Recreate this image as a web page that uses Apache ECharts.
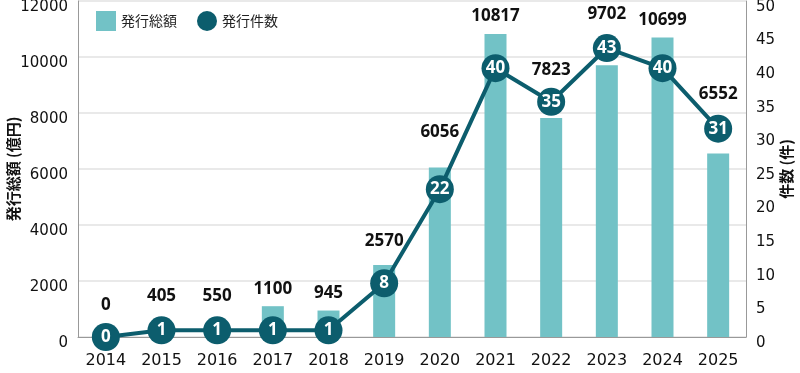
<!DOCTYPE html>
<html><head><meta charset="utf-8">
<script src="https://cdn.jsdelivr.net/npm/echarts@6/dist/echarts.min.js"></script>
<style>html,body{margin:0;padding:0;background:#fff}#c{width:800px;height:373px}</style>
</head><body><div id="c"></div>
<script>
const years = ['2014','2015','2016','2017','2018','2019','2020','2021','2022','2023','2024','2025'];
const amounts = [0,405,550,1100,945,2570,6056,10817,7823,9702,10699,6552];
const counts = [0,1,1,1,1,8,22,40,35,43,40,31];
const seriesNames = ['発行総額','発行件数'];
const leftAxisName = '発行総額 (億円)';
const rightAxisName = '件数 (件)';

// style: extra lift (px) of individual amount labels to keep clear of the line
const labelLift = [0,3,3,0,0,6,18,0,0,2,0,3];

const BAR = '#72c2c6', LINE = '#0c5d6d';
const NUM = '"DejaVu Sans", sans-serif';
const JP = '"Noto Sans CJK JP", sans-serif';
const R = 14;

const chart = echarts.init(document.getElementById('c'), null, {renderer:'canvas'});
function build(offsets){
  return {
    animation:false,
    grid:{left:78,right:54,top:1,bottom:36,containLabel:false,outerBoundsMode:'none'},
    legend:{left:91,top:6,itemWidth:20,itemHeight:20,itemGap:20,
      textStyle:{fontFamily:JP,fontSize:14,color:'#222'},
      data:[{name:seriesNames[0],icon:'rect'},{name:seriesNames[1],icon:'circle'}]},
    xAxis:{type:'category',data:years,
      axisLine:{lineStyle:{color:'#999',width:1}},
      axisTick:{inside:true,length:6,lineStyle:{color:'#999'}},
      axisLabel:{fontFamily:NUM,fontSize:16,color:'#111',margin:16}},
    yAxis:[
      {type:'value',min:0,max:12000,interval:2000,
       name:leftAxisName,nameLocation:'middle',nameGap:57,nameMoveOverlap:false,
       nameTextStyle:{fontFamily:JP,fontSize:15,fontWeight:'bold',color:'#111'},
       axisLine:{show:true,lineStyle:{color:'#999'}},axisTick:{show:false},
       splitLine:{lineStyle:{color:'#e2e2e2',width:1.5}},
       axisLabel:{fontFamily:NUM,fontSize:15,color:'#111',margin:10,
         verticalAlign:'top',lineHeight:12,formatter:v=>String(v)}},
      {type:'value',min:0,max:50,interval:5,position:'right',
       name:rightAxisName,nameLocation:'middle',nameGap:33,nameMoveOverlap:false,
       nameTextStyle:{fontFamily:JP,fontSize:15,fontWeight:'bold',color:'#111'},
       axisLine:{show:true,lineStyle:{color:'#999'}},axisTick:{show:false},
       splitLine:{show:false},
       axisLabel:{fontFamily:NUM,fontSize:15,color:'#111',margin:10,
         verticalAlign:'top',lineHeight:12,formatter:v=>String(v)}}
    ],
    series:[
      {name:seriesNames[0],type:'bar',yAxisIndex:0,barWidth:22,
       itemStyle:{color:BAR},
       data:amounts.map((v,i)=>({value:v,label:{offset:[0,offsets?offsets[i]:0]}})),
       label:{show:true,position:'top',distance:9,color:'#111',
         fontFamily:'"Noto Sans", sans-serif',fontWeight:'bold',fontSize:17}},
      {name:seriesNames[1],type:'line',yAxisIndex:1,data:counts,
       symbol:'circle',symbolSize:2*R,z:5,
       lineStyle:{color:LINE,width:4},itemStyle:{color:LINE},
       label:{show:true,position:'inside',color:'#fff',
         fontFamily:'"Noto Sans", sans-serif',fontWeight:'bold',fontSize:17}}
    ]
  };
}
chart.setOption(build(null));
const offs = amounts.map((v,i)=>{
  const barTop = chart.convertToPixel({xAxisIndex:0,yAxisIndex:0},[i,v])[1];
  const circTop = chart.convertToPixel({xAxisIndex:0,yAxisIndex:1},[i,counts[i]])[1]-R;
  const top = Math.min(barTop,circTop);
  return top - barTop - labelLift[i];
});
chart.setOption(build(offs));
</script></body></html>
